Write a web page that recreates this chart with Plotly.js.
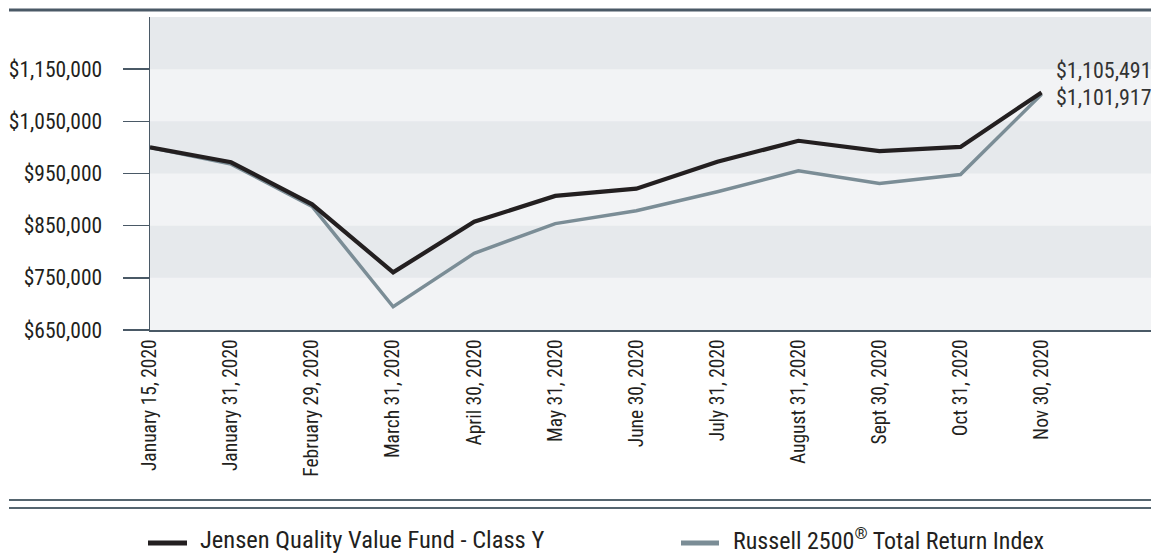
<!DOCTYPE html>
<html>
<head>
<meta charset="utf-8">
<script src="https://cdn.plot.ly/plotly-3.0.1.min.js"></script>
<style>html,body{margin:0;padding:0;background:#fff;}#chart{width:1151px;height:554px;}</style>
</head>
<body>
<div id="chart"></div>
<script>
const categories = ["January 15, 2020","January 31, 2020","February 29, 2020","March 31, 2020","April 30, 2020","May 31, 2020","June 30, 2020","July 31, 2020","August 31, 2020","Sept 30, 2020","Oct 31, 2020","Nov 30, 2020"];
const fundName = "Jensen Quality Value Fund - Class Y";
const indexName = "Russell 2500<sup>®</sup> Total Return Index";
const fundValues = [1000000, 971500, 891000, 760500, 857500, 907000, 921000, 972500, 1012700, 993000, 1001000, 1105491];
const indexValues = [1000000, 968000, 887000, 694600, 796900, 854000, 878600, 915000, 955000, 931000, 948000, 1101917];
const yTickVals = [650000, 750000, 850000, 950000, 1050000, 1150000];
const yTickText = ["$650,000","$750,000","$850,000","$950,000","$1,050,000","$1,150,000"];
const bandRanges = [[750000, 850000], [950000, 1050000], [1150000, 1250000]];
const endLabels = ["$1,105,491", "$1,101,917"];

const FONT = "'Liberation Sans Narrow', 'Roboto Condensed', 'DejaVu Sans Condensed', sans-serif";
const TXT = "#231f20";
const SLATE = "#4a5966";
const FUND_C = "#231f20";
const IDX_C = "#7b8d96";

const xIdx = categories.map((_, i) => i);

const traces = [
  {x: xIdx, y: indexValues, type: "scatter", mode: "lines", name: indexName,
   line: {color: IDX_C, width: 3.5}, showlegend: false, hoverinfo: "skip"},
  {x: xIdx, y: fundValues, type: "scatter", mode: "lines", name: fundName,
   line: {color: FUND_C, width: 4.2}, showlegend: false, hoverinfo: "skip"}
];

const pxX = X => (X - 150) / 1001;
const pxY = Y => (330 - Y) / 313;

const shapes = bandRanges.map(r => ({
  type: "rect", xref: "paper", yref: "y", x0: 0, x1: 1, y0: r[0], y1: r[1],
  fillcolor: "#e6e9ec", line: {width: 0}, layer: "below"
}));
shapes.push(
  {type: "line", xref: "paper", yref: "paper", x0: pxX(9), x1: 1, y0: pxY(10), y1: pxY(10), line: {color: SLATE, width: 3}},
  {type: "line", xref: "paper", yref: "paper", x0: pxX(9), x1: 1, y0: pxY(500), y1: pxY(500), line: {color: "#55656f", width: 2}},
  {type: "line", xref: "paper", yref: "paper", x0: pxX(9), x1: 1, y0: pxY(508), y1: pxY(508), line: {color: "#55656f", width: 2}},
  {type: "line", xref: "paper", yref: "paper", x0: pxX(148), x1: pxX(187), y0: pxY(543), y1: pxY(543), line: {color: FUND_C, width: 5}},
  {type: "line", xref: "paper", yref: "paper", x0: pxX(681), x1: pxX(719), y0: pxY(543), y1: pxY(543), line: {color: IDX_C, width: 5}}
);

const n = categories.length - 1;
const annotations = [
  {xref: "x", yref: "y", x: n, y: fundValues[n], text: endLabels[0], showarrow: false,
   xanchor: "left", yanchor: "middle", xshift: 12, yshift: 22, font: {family: FONT, size: 22, color: "#333"}},
  {xref: "x", yref: "y", x: n, y: indexValues[n], text: endLabels[1], showarrow: false,
   xanchor: "left", yanchor: "middle", xshift: 12, yshift: -3, font: {family: FONT, size: 22, color: "#333"}},
  {xref: "paper", yref: "paper", x: pxX(198), y: pxY(539), text: fundName, showarrow: false,
   xanchor: "left", yanchor: "middle", font: {family: FONT, size: 24.5, color: TXT}},
  {xref: "paper", yref: "paper", x: pxX(731), y: pxY(539), text: indexName, showarrow: false,
   xanchor: "left", yanchor: "middle", font: {family: FONT, size: 24, color: TXT}}
];

const layout = {
  width: 1151, height: 554,
  margin: {l: 150, r: 0, t: 17, b: 224, pad: 0},
  paper_bgcolor: "#ffffff",
  plot_bgcolor: "#f2f3f5",
  showlegend: false,
  font: {family: FONT, color: TXT},
  xaxis: {
    range: [0, 12.35], tickmode: "array", tickvals: xIdx, ticktext: categories,
    tickangle: -90, ticks: "", showgrid: false, zeroline: false,
    showline: true, linecolor: SLATE, linewidth: 1.5,
    tickfont: {family: FONT, size: 19.5, color: TXT}, fixedrange: true
  },
  yaxis: {
    range: [650000, 1250000], tickmode: "array", tickvals: yTickVals, ticktext: yTickText,
    ticks: "outside", ticklen: 26, tickwidth: 1.5, tickcolor: SLATE,
    showgrid: false, zeroline: false, showline: true, linecolor: SLATE, linewidth: 1.5,
    tickfont: {family: FONT, size: 21.5, color: TXT}, ticklabelstandoff: 16, fixedrange: true
  },
  shapes: shapes,
  annotations: annotations
};

Plotly.newPlot("chart", traces, layout, {staticPlot: true, displayModeBar: false});
</script>
</body>
</html>
